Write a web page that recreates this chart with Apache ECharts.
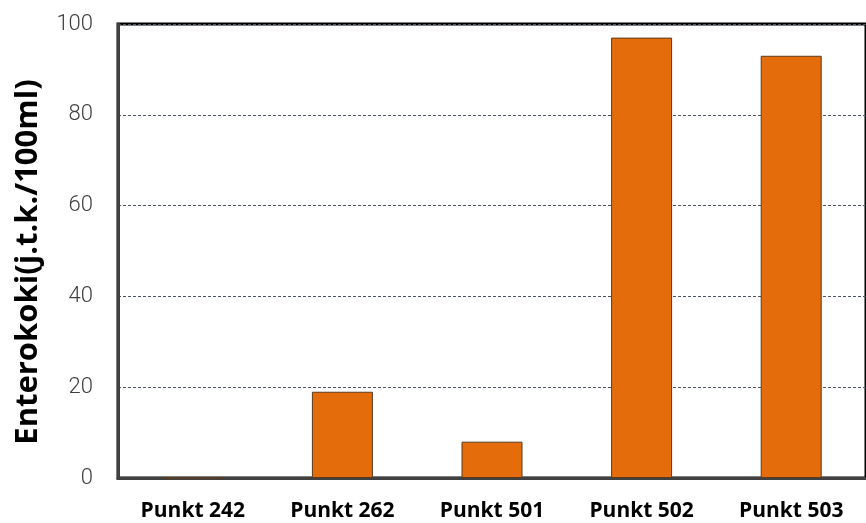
<!DOCTYPE html>
<html>
<head>
<meta charset="utf-8">
<script src="https://cdn.jsdelivr.net/npm/echarts@6/dist/echarts.min.js"></script>
<style>
  html, body { margin: 0; padding: 0; background: #fff; }
  #chart { width: 866px; height: 523px; }
</style>
</head>
<body>
<div id="chart"></div>
<script>
// Enterococci counts per sampling point
const categories = ['Punkt 242', 'Punkt 262', 'Punkt 501', 'Punkt 502', 'Punkt 503'];
const values = [0, 19, 8, 97, 93];
const yTicks = { min: 0, max: 100, interval: 20 };
const yTitle = 'Enterokoki(j.t.k./100ml)';

const chart = echarts.init(document.getElementById('chart'), null, { renderer: 'canvas' });

chart.setOption({
  animation: false,
  backgroundColor: '#ffffff',
  grid: {
    left: 118,
    top: 24,
    width: 754,
    height: 454,
    show: true,
    borderColor: '#000000',
    borderWidth: 3,
    backgroundColor: 'transparent'
  },
  xAxis: {
    type: 'category',
    data: categories,
    axisLine: { show: true, lineStyle: { color: '#404040', width: 3 } },
    axisTick: { show: false },
    axisLabel: {
      margin: 23,
      color: '#000000',
      fontFamily: 'Open Sans',
      fontWeight: 'bold',
      fontSize: 21
    }
  },
  yAxis: {
    type: 'value',
    min: yTicks.min,
    max: yTicks.max,
    interval: yTicks.interval,
    name: yTitle,
    nameLocation: 'middle',
    nameGap: 74,
    nameTextStyle: {
      color: '#000000',
      fontFamily: 'Open Sans',
      fontWeight: 'bold',
      fontSize: 31,
      padding: [0, 22, 0, 0]
    },
    axisLine: { show: true, lineStyle: { color: '#404040', width: 3 } },
    axisTick: { show: false },
    axisLabel: {
      margin: 25,
      color: '#404040',
      fontFamily: 'Roboto',
      fontWeight: 300,
      fontSize: 22
    },
    splitLine: {
      show: true,
      lineStyle: { color: '#4a5560', width: 1, type: [3, 2] }
    }
  },
  series: [{
    type: 'bar',
    data: values,
    barWidth: 61,
    itemStyle: {
      color: '#E46C0A',
      borderColor: '#5a3a1e',
      borderWidth: 1
    }
  }]
});
</script>
</body>
</html>
